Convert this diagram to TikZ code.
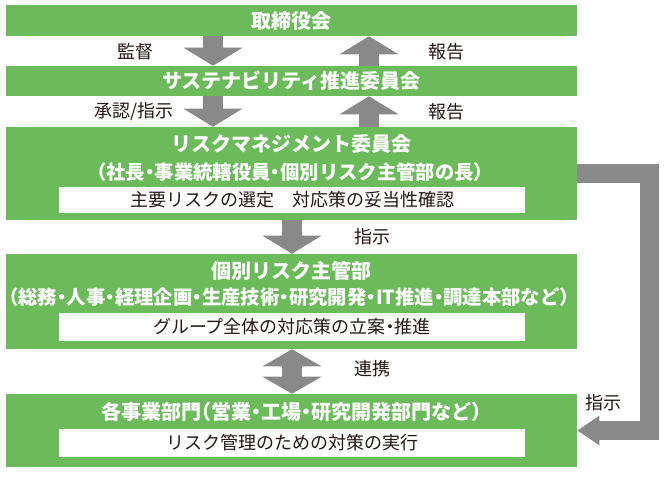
\documentclass[tikz,border=0pt]{standalone}
\usepackage{fontspec}
\setmainfont{Noto Sans CJK JP}
\usetikzlibrary{arrows.meta}
\definecolor{gr}{RGB}{107,187,91}
\definecolor{ar}{RGB}{137,137,137}
\definecolor{tx}{RGB}{35,24,21}
\newcommand\hd{\makebox[0.5em][c]{・}}
\newcommand\lp{\makebox[0.5em][r]{（}}
\newcommand\rp{\makebox[0.5em][l]{）}}
\begin{document}
\begin{tikzpicture}[x=0.75pt,y=-0.75pt,
 gbox/.style={fill=gr,draw=none,inner sep=0,minimum width=428.25pt},
 wbox/.style={fill=white,draw=none,inner sep=0,minimum width=349.5pt,minimum height=20.25pt},
 ttl/.style={text=white,font=\bfseries\fontsize{15pt}{15pt}\selectfont,inner sep=0},
 sub/.style={text=white,font=\bfseries\fontsize{14.5pt}{14.5pt}\selectfont,inner sep=0},
 wtx/.style={text=tx,font=\fontsize{13.5pt}{13.5pt}\selectfont,inner sep=0},
 lbl/.style={text=tx,font=\fontsize{13.5pt}{13.5pt}\selectfont,inner sep=0},
 fat/.style={draw=ar,line width=15pt,-{Triangle[width=43.5pt,length=13.5pt]}},
 fattwo/.style={draw=ar,line width=15pt,{Triangle[width=43.5pt,length=12.75pt]}-{Triangle[width=43.5pt,length=12.75pt]}},
 elb/.style={draw=ar,line width=14.25pt,line join=miter,-{Triangle[width=21pt,length=16.5pt]}}
]
\useasboundingbox (0,0) rectangle (670,476);
% green boxes
\node[gbox,minimum height=23.25pt] (b1) at (291.5,20.5) {};
\node[gbox,minimum height=22.5pt] (b2) at (291.5,81) {};
\node[gbox,minimum height=69.75pt] (b3) at (291.5,173.5) {};
\node[gbox,minimum height=71.25pt] (b4) at (291.5,301.5) {};
\node[gbox,minimum height=54.75pt] (b5) at (291.5,430.5) {};
% white boxes
\node[wbox,minimum height=19.5pt] (w3) at (292,200) {};
\node[wbox,minimum height=21pt] (w4) at (292,327) {};
\node[wbox,minimum height=21pt] (w5) at (292,443) {};
% titles
\node[ttl] (t1) at (291.5,21) {取締役会};
\node[ttl] (t2) at (291.5,81) {サステナビリティ推進委員会};
\node[ttl] (t3) at (291.5,144) {リスクマネジメント委員会};
\node[sub] (s3) at (290,172) {\lp 社長\hd 事業統轄役員\hd 個別リスク主管部の長\rp};
\node[ttl] (t4) at (291.5,271) {個別リスク主管部};
\node[sub] (s4) at (289,297) {\lp 総務\hd 人事\hd 経理企画\hd 生産技術\hd 研究開発\hd IT推進\hd 調達本部など\rp};
\node[ttl] (t5) at (291.5,412) {各事業部門\lp 営業\hd 工場\hd 研究開発部門など\rp};
% white box texts
\node[wtx] (x3) at (w3) {主要リスクの選定　対応策の妥当性確認};
\node[wtx] (x4) at (w4) {グループ全体の対応策の立案\hd 推進};
\node[wtx] (x5) at (w5) {リスク管理のための対策の実行};
% arrow columns
\coordinate (ca) at (213,0);
\coordinate (cb) at (369,0);
\coordinate (cc) at (292,0);
\coordinate (ce) at (649,0);
\draw[fat] (ca |- b1.south) -- (ca |- b2.north);
\draw[fat] (cb |- b2.north) -- (cb |- b1.south);
\draw[fat] (ca |- b2.south) -- (ca |- b3.north);
\draw[fat] (cb |- b3.north) -- (cb |- b2.south);
\draw[fat] (cc |- b3.south) -- (cc |- b4.north);
\draw[fattwo] (cc |- b4.south) -- (cc |- b5.north);
\draw[elb] (b3.east) -- (b3.east -| ce) -- (b5.east -| ce) -- (b5.east);
% labels
\node[lbl] (l1) at (135,52) {監督};
\node[lbl] (l2) at (446,52) {報告};
\node[lbl] (l3) at (134,112) {承認/指示};
\node[lbl] (l4) at (446,112) {報告};
\node[lbl] (l5) at (372,237) {指示};
\node[lbl] (l6) at (372,369) {連携};
\node[lbl] (l7) at (603,403) {指示};
\end{tikzpicture}
\end{document}
